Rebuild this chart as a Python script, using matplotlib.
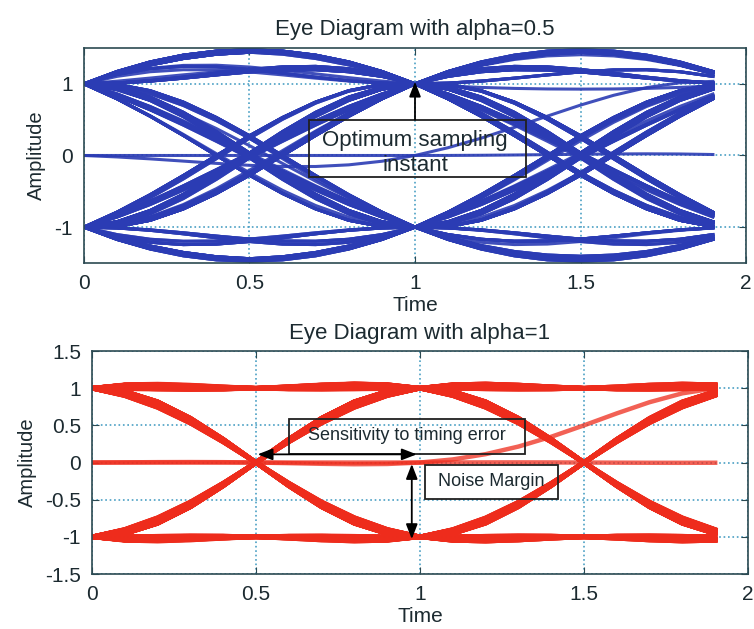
import numpy as np
import matplotlib.pyplot as plt
from matplotlib.patches import Rectangle

plt.rcParams['font.family'] = ['Liberation Sans', 'DejaVu Sans']

# transmitted bits (same sequence for both plots)
bit_rows = [
    "1001101011100010110010100111010011010110001010111100100101101000",
    "1101101010011001011101001011000110101001110010110100101101011001",
    "1101000101100110101101000111001011010011010010111000110101100101",
    "0011011100010110100101100110101110001001011011010011100101011000",
    "1101011100101001101011010001110010110101001101100101110100011010",
]
bits = [int(b) for row in bit_rows for b in row]
alphas = [0.5, 1]
titles = ['Eye Diagram with alpha=0.5', 'Eye Diagram with alpha=1']
line_colors = ['#2b3cb4', '#ee2c1c']
line_widths = [2.2, 3.2]
line_alpha = [0.9, 0.75]
sps = 10      # samples per symbol
span = 3      # filter delay in symbols

edge = '#2c4a52'
txt = '#1c2a30'
grid_c = '#4a9fc4'


def rc_pulse(t, a):
    den = 1 - (2 * a * t) ** 2
    sing = np.abs(den) < 1e-9
    p = np.sinc(t) * np.cos(np.pi * a * t) / np.where(sing, 1, den)
    p = np.where(sing, np.pi / 4 * np.sinc(1 / (2 * a)), p)
    p[np.abs(t) > span] = 0
    return p


def eye_traces(a):
    sym = 2 * np.array(bits) - 1
    t = np.arange(-4 * sps, (len(sym) - 4) * sps) / sps
    y = np.zeros_like(t)
    for k, s in enumerate(sym):
        y += s * rc_pulse(t - k, a)
    n = len(y) // (2 * sps)
    return y[:n * 2 * sps].reshape(-1, 2 * sps).T


x = np.arange(2 * sps) / sps

fig = plt.figure(figsize=(7.54, 6.29), dpi=100)
ax1 = fig.add_axes([0.1114, 0.5819, 0.878, 0.3418])
ax2 = fig.add_axes([0.122, 0.0874, 0.870, 0.3545])

for ax, a, ttl, c, lw, al in zip([ax1, ax2], alphas, titles, line_colors,
                                 line_widths, line_alpha):
    ax.plot(x, eye_traces(a), color=c, lw=lw, alpha=al,
            solid_joinstyle='round')
    ax.set_xlim(0, 2)
    ax.set_ylim(-1.5, 1.5)
    ax.set_xticks([0, 0.5, 1, 1.5, 2])
    ax.set_xticklabels(['0', '0.5', '1', '1.5', '2'])
    ax.grid(True, linestyle=':', color=grid_c, lw=1.2)
    ax.tick_params(direction='in', length=5, top=True, right=True,
                   labelsize=15, colors=edge, labelcolor=txt, pad=8)
    for s in ax.spines.values():
        s.set_color(edge)
        s.set_linewidth(1.2)
    ax.set_title(ttl, fontsize=16, color=txt, pad=9)
    ax.set_xlabel('Time', fontsize=15, color=txt, labelpad=2)
    ax.set_ylabel('Amplitude', fontsize=14.5, color=txt, labelpad=6)

ax1.set_yticks([-1, 0, 1])
ax1.set_yticklabels(['-1', '0', '1'])
ax2.set_yticks([-1.5, -1, -0.5, 0, 0.5, 1, 1.5])
ax2.set_yticklabels(['-1.5', '-1', '-0.5', '0', '0.5', '1', '1.5'])

# top annotation
ax1.add_patch(Rectangle((0.68, -0.305), 0.655, 0.805, fill=False,
                        ec='#202020', lw=1.3, zorder=5))
ax1.text(1.0, 0.21, 'Optimum sampling', ha='center', va='center',
         fontsize=16, color=txt, zorder=6)
ax1.text(1.0, -0.14, 'instant', ha='center', va='center',
         fontsize=16, color=txt, zorder=6)
ax1.annotate('', xy=(1.0, 1.03), xytext=(1.0, 0.5),
             arrowprops=dict(arrowstyle='-|>,head_length=0.9,head_width=0.35',
                             color='black', lw=1.3, shrinkA=0, shrinkB=0),
             zorder=6)

# bottom annotations
ax2.add_patch(Rectangle((0.60, 0.12), 0.72, 0.47, fill=False,
                        ec='#202020', lw=1.3, zorder=5))
ax2.text(0.96, 0.36, 'Sensitivity to timing error', ha='center', va='center',
         fontsize=13, color=txt, zorder=6)
ax2.add_patch(Rectangle((1.015, -0.49), 0.405, 0.46, fill=False,
                        ec='#202020', lw=1.3, zorder=5))
ax2.text(1.2175, -0.26, 'Noise Margin', ha='center', va='center',
         fontsize=13, color=txt, zorder=6)
ax2.annotate('', xy=(0.505, 0.11), xytext=(0.99, 0.11),
             arrowprops=dict(arrowstyle='<|-|>,head_length=0.9,head_width=0.35',
                             color='black', lw=1.3, shrinkA=0, shrinkB=0),
             zorder=6)
ax2.annotate('', xy=(0.975, -0.02), xytext=(0.975, -1.03),
             arrowprops=dict(arrowstyle='<|-|>,head_length=0.9,head_width=0.35',
                             color='black', lw=1.3, shrinkA=0, shrinkB=0),
             zorder=6)

fig.savefig('out.png', dpi=100, facecolor='white')
